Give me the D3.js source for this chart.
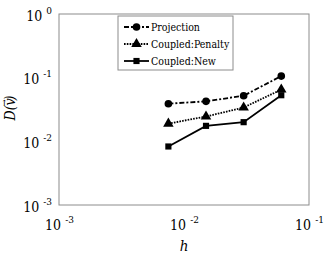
<!DOCTYPE html>
<html>
<head>
<meta charset="utf-8">
<script src="https://cdn.jsdelivr.net/npm/d3@7"></script>
<style>
  body { margin: 0; background: #fff; }
  svg text { font-family: 'DejaVu Serif', serif; font-stretch: condensed; }
</style>
</head>
<body>
<div id="chart"></div>
<script>
(function() {
  // values
  var hValues = [0.0075, 0.015, 0.03, 0.06];
  var projection = [0.039, 0.0425, 0.052, 0.106];
  var coupledPenalty = [0.019, 0.0245, 0.034, 0.065];
  var coupledNew = [0.0083, 0.0175, 0.020, 0.053];
  var seriesNames = ["Projection", "Coupled:Penalty", "Coupled:New"];
  var xTicks = [-3, -2, -1];
  var yTicks = [0, -1, -2, -3];

  var width = 332, height = 254;
  var margin = {top: 14, right: 23, bottom: 49, left: 59};
  var w = width - margin.left - margin.right,
      h = height - margin.top - margin.bottom;

  var svg = d3.select("#chart")
    .append("svg")
      .attr("width", width)
      .attr("height", height);

  var g = svg.append("g")
    .attr("transform", `translate(${margin.left},${margin.top})`);

  var x = d3.scaleLog().domain([1e-3, 1e-1]).range([0, w]);
  var y = d3.scaleLog().domain([1e-3, 1]).range([h, 0]);

  // frame
  g.append("rect")
    .attr("width", w).attr("height", h)
    .attr("fill", "none")
    .attr("stroke", "#8c8c8c")
    .attr("stroke-width", 1);

  function powLabel(sel, e) {
    sel.text(null);
    sel.append("tspan").text("10");
    sel.append("tspan").attr("dx", 4).attr("dy", -7)
      .attr("font-size", 10).text(e);
  }

  // x axis
  var xAxis = g.append("g")
    .attr("transform", `translate(0,${h})`)
    .call(d3.axisBottom(x).tickValues(xTicks.map(function(e) { return Math.pow(10, e); }))
      .tickSize(0).tickFormat(""));
  xAxis.select(".domain").remove();
  xAxis.selectAll(".tick text")
    .attr("y", 25).attr("dy", 0)
    .attr("font-size", 14)
    .attr("fill", "#000")
    .attr("text-anchor", "middle")
    .each(function(d) { powLabel(d3.select(this), Math.round(Math.log10(d))); });

  // y axis
  var yAxis = g.append("g")
    .call(d3.axisLeft(y).tickValues(yTicks.map(function(e) { return Math.pow(10, e); }))
      .tickSize(0).tickFormat(""));
  yAxis.select(".domain").remove();
  yAxis.selectAll(".tick text")
    .attr("x", -7).attr("dy", "0.45em")
    .attr("font-size", 14)
    .attr("fill", "#000")
    .attr("text-anchor", "end")
    .each(function(d) { powLabel(d3.select(this), Math.round(Math.log10(d))); });

  // axis titles
  svg.append("text")
    .attr("x", margin.left + x(0.01))
    .attr("y", 251)
    .attr("text-anchor", "middle")
    .attr("font-size", 15)
    .attr("font-style", "italic")
    .text("h");

  var yTitle = svg.append("text")
    .attr("transform", "translate(15,108) rotate(-90)")
    .attr("text-anchor", "middle")
    .attr("font-size", 14)
    .attr("font-style", "italic");
  yTitle.append("tspan").text("D(v");
  yTitle.append("tspan").attr("dx", -8).attr("dy", -8)
    .attr("font-size", 9).attr("font-style", "normal").text("\u2192");
  yTitle.append("tspan").attr("dx", -1).attr("dy", 8).text(")");

  var series = [
    {name: seriesNames[0], values: projection, dash: "5,2,2,2", symbol: d3.symbolCircle, size: 46},
    {name: seriesNames[1], values: coupledPenalty, dash: "1.6,1.2", symbol: d3.symbolTriangle, size: 48},
    {name: seriesNames[2], values: coupledNew, dash: null, symbol: d3.symbolSquare, size: 38}
  ];

  var line = d3.line()
    .x(function(d, i) { return x(hValues[i]); })
    .y(function(d) { return y(d); });

  series.forEach(function(s) {
    g.append("path")
      .datum(s.values)
      .attr("fill", "none")
      .attr("stroke", "#000")
      .attr("stroke-width", 1.8)
      .attr("stroke-dasharray", s.dash)
      .attr("d", line);
    g.selectAll(null)
      .data(s.values)
      .enter().append("path")
        .attr("transform", function(d, i) { return `translate(${x(hValues[i])},${y(d)})`; })
        .attr("d", d3.symbol().type(s.symbol).size(s.size))
        .attr("fill", "#000");
  });

  // legend
  var legend = svg.append("g").attr("transform", "translate(118,16)");
  legend.append("rect")
    .attr("width", 115).attr("height", 54)
    .attr("fill", "#fff")
    .attr("stroke", "#8c8c8c")
    .attr("stroke-width", 1);

  series.forEach(function(s, i) {
    var row = legend.append("g").attr("transform", `translate(0,${11 + i * 17})`);
    row.append("line")
      .attr("x1", 6).attr("x2", 31)
      .attr("stroke", "#000").attr("stroke-width", 1.8)
      .attr("stroke-dasharray", s.dash);
    row.append("path")
      .attr("transform", "translate(18.5,0)")
      .attr("d", d3.symbol().type(s.symbol).size(s.size))
      .attr("fill", "#000");
    row.append("text")
      .attr("x", 33).attr("dy", "0.35em")
      .attr("font-size", 10.5)
      .text(s.name);
  });
})();
</script>
</body>
</html>
